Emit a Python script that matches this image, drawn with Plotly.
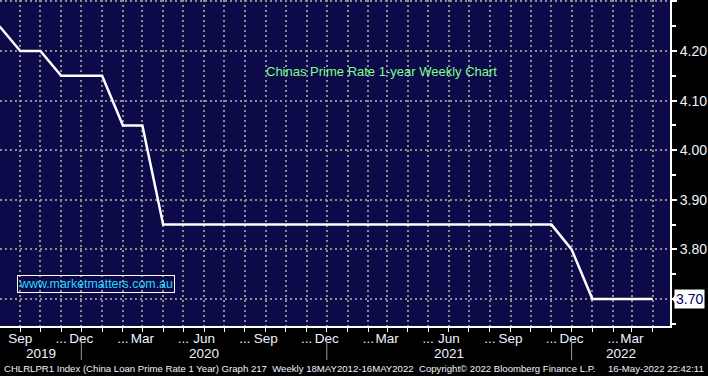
import plotly.graph_objects as go
import pandas as pd

# ---- data ----
months = pd.date_range("2019-08-01", "2022-04-01", freq="MS")
rate = [4.25, 4.20, 4.20, 4.15, 4.15,
        4.15, 4.05, 4.05, 3.85, 3.85, 3.85, 3.85, 3.85, 3.85, 3.85, 3.85, 3.85,
        3.85, 3.85, 3.85, 3.85, 3.85, 3.85, 3.85, 3.85, 3.85, 3.85, 3.85, 3.80,
        3.70, 3.70, 3.70, 3.70]

tick_months = pd.date_range("2019-09-01", "2022-04-01", freq="MS")
tick_text = ["Sep", "", "...", "Dec",
             "", "...", "Mar", "", "...", "Jun", "", "...", "Sep", "", "...", "Dec",
             "", "...", "Mar", "", "...", "Jun", "", "...", "Sep", "", "...", "Dec",
             "", "...", "Mar", ""]

years = ["2019", "2020", "2021", "2022"]
year_breaks = ["2019-12-01", "2020-12-01", "2021-12-01"]

y_ticks = [3.70, 3.80, 3.90, 4.00, 4.10, 4.20, 4.30]
y_text = ["", "3.80", "3.90", "4.00", "4.10", "4.20", ""]
y_minor = [3.65, 3.75, 3.85, 3.95, 4.05, 4.15, 4.25]
last_value = rate[-1]

title_text = "Chinas Prime Rate 1-year Weekly Chart"
watermark = "www.marketmatters.com.au"
footer_left = "CHLRLPR1 Index (China Loan Prime Rate 1 Year) Graph 217  Weekly 18MAY2012-16MAY2022"
footer_mid = "Copyright\u00a9 2022 Bloomberg Finance L.P."
footer_right = "16-May-2022 22:42:11"

x_range = [pd.Timestamp("2019-08-01 18:00"), pd.Timestamp("2022-04-26 17:00")]
y_range = [3.6456, 4.3028]

TXT = "#eef3ff"
FONT = "Liberation Sans, Arial, sans-serif"

fig = go.Figure()
fig.add_trace(go.Scatter(x=months, y=rate, mode="lines",
                         line=dict(color="white", width=2.5), hoverinfo="skip"))

fig.update_layout(
    width=708, height=376,
    margin=dict(l=0, r=38, t=0, b=50),
    paper_bgcolor="black", plot_bgcolor="#0d0a4a",
    showlegend=False,
    font=dict(family=FONT, color=TXT),
)

fig.update_xaxes(
    type="date", range=x_range,
    tickvals=list(tick_months), ticktext=tick_text, tickangle=0,
    tickfont=dict(size=13.5, color=TXT, family=FONT),
    ticks="outside", ticklen=4, tickwidth=1, tickcolor="white",
    ticklabelstandoff=-5,
    showgrid=True, gridcolor="#8c8c8c", gridwidth=2, griddash="2px,3px",
    showline=True, linecolor="white", linewidth=2,
    zeroline=False, fixedrange=True,
)
fig.update_yaxes(
    side="right", range=y_range,
    tickvals=y_ticks, ticktext=y_text,
    tickfont=dict(size=14, color=TXT, family=FONT),
    ticks="outside", ticklen=5, tickwidth=2, tickcolor="white",
    minor=dict(tickvals=y_minor, ticks="outside", ticklen=4, tickcolor="white", showgrid=False),
    showgrid=True, gridcolor="#8c8c8c", gridwidth=2, griddash="2px,3px",
    showline=True, linecolor="white", linewidth=2,
    zeroline=False, fixedrange=True,
)

# year labels and separators
bounds = [x_range[0]] + [pd.Timestamp(d) for d in year_breaks] + [x_range[1]]
for i, yr in enumerate(years):
    mid = bounds[i] + (bounds[i + 1] - bounds[i]) / 2
    fig.add_annotation(x=mid, y=-0.085, xref="x", yref="paper", text=yr,
                       showarrow=False, font=dict(size=13.5, color=TXT, family=FONT),
                       xanchor="center", yanchor="middle")
for d in year_breaks:
    fig.add_shape(type="line", xref="x", yref="paper", x0=d, x1=d, y0=-0.037, y1=-0.104,
                  line=dict(color="#9a9a9a", width=1))

# title and watermark
fig.add_annotation(x=0.5687, y=0.782, xref="paper", yref="paper", text=title_text,
                   showarrow=False, xanchor="center", yanchor="middle",
                   font=dict(size=13, color="#7dff8a", family=FONT))
fig.add_annotation(x=0.144, y=0.1288, xref="paper", yref="paper", text=watermark,
                   showarrow=False, xanchor="center", yanchor="middle",
                   font=dict(size=12.4, color="#22d8ff", family=FONT),
                   bordercolor="white", borderwidth=1, borderpad=1)

# last value box
fig.add_annotation(x=1, y=last_value, xref="paper", yref="y", text=f"{last_value:.2f}",
                   showarrow=False, xanchor="left", yanchor="middle", xshift=4,
                   font=dict(size=14, color="#000060", family=FONT),
                   bgcolor="white", borderpad=1)
fig.add_shape(type="path", xref="paper", yref="y",
              path=f"M 1.003 {last_value} L 1.012 {last_value + 0.016} L 1.012 {last_value - 0.016} Z",
              fillcolor="white", line=dict(width=0))

# footer
foot_font = dict(size=9.6, color=TXT, family=FONT)
fig.add_annotation(x=0.003, y=-0.129, xref="paper", yref="paper", text=footer_left,
                   showarrow=False, xanchor="left", yanchor="middle", font=foot_font)
fig.add_annotation(x=0.622, y=-0.129, xref="paper", yref="paper", text=footer_mid,
                   showarrow=False, xanchor="left", yanchor="middle", font=foot_font)
fig.add_annotation(x=1.054, y=-0.129, xref="paper", yref="paper", text=footer_right,
                   showarrow=False, xanchor="right", yanchor="middle", font=foot_font)

fig.write_html("out.html", config={"displayModeBar": False},
               post_script="document.body.style.margin='0px';document.body.style.overflow='hidden';")
